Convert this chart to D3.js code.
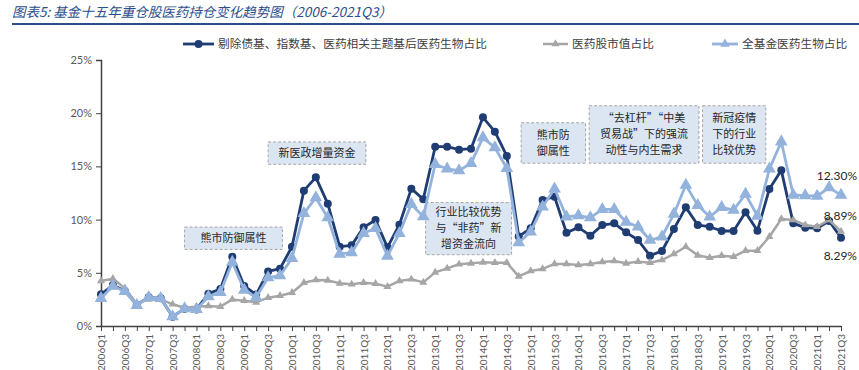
<!DOCTYPE html>
<html><head><meta charset="utf-8">
<script src="https://cdn.jsdelivr.net/npm/d3@7"></script>
<style>
body{margin:0;background:#fff;}
svg{display:block;}
</style></head>
<body><svg id="c" width="859" height="370"></svg>
<script>
const quarters = ["2006Q1","2006Q2","2006Q3","2006Q4","2007Q1","2007Q2","2007Q3","2007Q4",
"2008Q1","2008Q2","2008Q3","2008Q4","2009Q1","2009Q2","2009Q3","2009Q4",
"2010Q1","2010Q2","2010Q3","2010Q4","2011Q1","2011Q2","2011Q3","2011Q4",
"2012Q1","2012Q2","2012Q3","2012Q4","2013Q1","2013Q2","2013Q3","2013Q4",
"2014Q1","2014Q2","2014Q3","2014Q4","2015Q1","2015Q2","2015Q3","2015Q4",
"2016Q1","2016Q2","2016Q3","2016Q4","2017Q1","2017Q2","2017Q3","2017Q4",
"2018Q1","2018Q2","2018Q3","2018Q4","2019Q1","2019Q2","2019Q3","2019Q4",
"2020Q1","2020Q2","2020Q3","2020Q4","2021Q1","2021Q2","2021Q3"];
const excludedShare = [2.98,3.85,3.3,2.0,2.7,2.6,0.88,1.63,1.56,3.04,3.48,6.5,3.76,2.95,5.13,5.39,
7.45,12.72,13.97,11.5,7.45,7.58,9.27,9.96,7.39,9.52,12.91,11.91,16.85,16.85,16.57,16.67,19.61,18.26,15.98,8.42,
9.18,11.84,12.15,8.77,9.27,8.49,9.49,9.65,8.8,8.08,6.61,7.05,9.12,11.15,9.49,
9.33,8.93,8.93,10.68,8.96,12.88,14.63,9.65,9.24,9.18,9.87,8.29];
const marketShare = [4.23,4.45,3.55,2.1,2.5,2.5,2.04,1.72,1.82,1.88,1.82,2.5,2.38,2.22,2.66,2.85,
3.13,4.07,4.32,4.29,4.01,3.92,4.07,3.98,3.70,4.23,4.39,4.1,5.04,5.42,5.8,5.89,5.98,5.95,5.95,4.67,
5.17,5.36,5.83,5.83,5.73,5.83,6.02,6.11,5.89,6.05,5.95,6.2,6.77,7.45,6.64,
6.42,6.61,6.51,7.08,7.08,8.39,10.06,9.96,9.49,9.33,9.96,8.89];
const allFundShare = [2.6,3.76,3.25,1.95,2.7,2.6,0.88,1.63,1.56,2.76,3.16,6.0,3.38,2.7,4.55,4.73,
6.36,10.59,12.06,10.18,6.77,6.89,8.71,9.18,6.58,8.71,11.44,10.28,15.2,14.76,14.6,15.29,17.7,16.76,14.82,7.83,
8.86,11.21,12.9,10.27,10.37,10.18,10.97,10.97,9.77,9.33,8.08,8.39,10.53,13.25,11.34,
10.27,11.15,10.9,12.4,10.34,14.76,17.32,12.31,12.25,12.22,13.0,12.30];
const yTicks = [0,5,10,15,20,25];
const seriesNames = ["剔除债基、指数基、医药相关主题基后医药生物占比","医药股市值占比","全基金医药生物占比"];
const endLabels = ["8.29%","8.89%","12.30%"];
const notes = [
  {lines:["熊市防御属性"], i0:7.0, i1:15.2, v0:9.3, v1:7.2},
  {lines:["新医政增量资金"], i0:14.0, i1:22.2, v0:17.3, v1:15.2},
  {lines:["行业比较优势","与“非药”新","增资金流向"], i0:27.2, i1:34.4, v0:11.6, v1:6.7},
  {lines:["熊市防","御属性"], i0:35.2, i1:40.6, v0:19.1, v1:15.3},
  {lines:["“去杠杆”“中美","贸易战”下的强流","动性与内生需求"], i0:40.9, i1:50.1, v0:20.7, v1:15.3},
  {lines:["新冠疫情","下的行业","比较优势"], i0:50.4, i1:55.7, v0:20.7, v1:15.3}
];

const svg = d3.select("#c");
const cjk = "'Noto Sans CJK SC', sans-serif";
const latin = "Lato, 'Liberation Sans', sans-serif";

// title
svg.append("text").attr("x",12).attr("y",17)
  .attr("font-family",cjk).attr("font-size",13.5).attr("font-style","italic")
  .attr("fill","#2c4f8c").text("图表5:  基金十五年重仓股医药持仓变化趋势图（2006-2021Q3）");
svg.append("line").attr("x1",12).attr("x2",859).attr("y1",24).attr("y2",24)
  .attr("stroke","#2c4f8c").attr("stroke-width",2);

const x = d3.scalePoint().domain(quarters).range([101,841]);
const y = d3.scaleLinear().domain([0,25]).range([326,60]);

// annotation boxes
notes.forEach(n=>{
  const x0 = x(quarters[0]) + (x(quarters[1])-x(quarters[0]))*n.i0;
  const x1 = x(quarters[0]) + (x(quarters[1])-x(quarters[0]))*n.i1;
  const y0 = y(n.v0), y1 = y(n.v1);
  svg.append("rect").attr("x",x0).attr("y",y0).attr("width",x1-x0).attr("height",y1-y0)
    .attr("fill","#dce6f2").attr("stroke","#a6a6a6").attr("stroke-dasharray","3,2").attr("stroke-width",1);
  const lh = 16;
  const cy = (y0+y1)/2 - (n.lines.length-1)*lh/2;
  n.lines.forEach((l,k)=>{
    svg.append("text").attr("x",(x0+x1)/2).attr("y",cy+k*lh).attr("dy","0.35em")
      .attr("text-anchor","middle").attr("font-family",cjk).attr("font-size",11)
      .attr("fill","#262626").text(l);
  });
});

// axes
const yAxis = svg.append("g").attr("transform","translate(101,0)")
  .call(d3.axisLeft(y).tickValues(yTicks).tickFormat(d=>d+"%").tickSize(5).tickPadding(4));
yAxis.select(".domain").attr("stroke","#404040").attr("stroke-width",1.5);
yAxis.selectAll(".tick line").attr("stroke","#404040");
yAxis.selectAll("text").attr("font-family",latin).attr("font-size",11).attr("fill","#595959");

const xAxis = svg.append("g").attr("transform","translate(0,326)")
  .call(d3.axisBottom(x).tickSize(5).tickSizeOuter(0).tickFormat((d,i)=> i%2===0 ? d : ""));
xAxis.select(".domain").attr("stroke","#404040").attr("stroke-width",1.5);
xAxis.selectAll(".tick line").attr("stroke","#404040");
xAxis.selectAll("text").attr("font-family",latin).attr("font-size",10).attr("fill","#595959")
  .attr("transform","rotate(-90)").attr("text-anchor","end").attr("x",-8).attr("y",0).attr("dy","0.35em");

const line = d3.line().x((d,i)=>x(quarters[i])).y(d=>y(d));
const tri = d3.symbol().type(d3.symbolTriangle);

// dark series
svg.append("path").datum(excludedShare).attr("d",line).attr("fill","none")
  .attr("stroke","#1f3d73").attr("stroke-width",2.8).attr("stroke-linejoin","round");
svg.selectAll(".dk").data(excludedShare).join("circle")
  .attr("cx",(d,i)=>x(quarters[i])).attr("cy",d=>y(d)).attr("r",4).attr("fill","#1f3d73");

// gray series
svg.append("path").datum(marketShare).attr("d",line).attr("fill","none")
  .attr("stroke","#a6a6a6").attr("stroke-width",2.5).attr("stroke-linejoin","round");
svg.selectAll(".gy").data(marketShare).join("path")
  .attr("d",tri.size(28)()).attr("fill","#a6a6a6")
  .attr("transform",(d,i)=>`translate(${x(quarters[i])},${y(d)})`);

// light series
svg.append("path").datum(allFundShare).attr("d",line).attr("fill","none")
  .attr("stroke","#93b3dc").attr("stroke-width",2.8).attr("stroke-linejoin","round");
svg.selectAll(".lt").data(allFundShare).join("path")
  .attr("d",tri.size(70)()).attr("fill","#93b3dc")
  .attr("transform",(d,i)=>`translate(${x(quarters[i])},${y(d)})`);

// end labels
[[excludedShare,0,18],[marketShare,1,-16],[allFundShare,2,-19]].forEach(([s,k,dy])=>{
  svg.append("text").attr("x",857).attr("y",y(s[s.length-1])+dy).attr("dy","0.35em")
    .attr("text-anchor","end").attr("font-family",latin).attr("font-size",12)
    .attr("fill","#262626").text(endLabels[k]);
});

// legend
const lg = svg.append("g").attr("font-family",cjk).attr("font-size",11.7).attr("fill","#404040");
const ly = 44;
lg.append("line").attr("x1",183).attr("x2",214).attr("y1",ly).attr("y2",ly).attr("stroke","#1f3d73").attr("stroke-width",2.8);
lg.append("circle").attr("cx",198.5).attr("cy",ly).attr("r",4).attr("fill","#1f3d73");
lg.append("text").attr("x",218).attr("y",ly).attr("dy","0.35em").text(seriesNames[0]);
lg.append("line").attr("x1",543).attr("x2",568).attr("y1",ly).attr("y2",ly).attr("stroke","#a6a6a6").attr("stroke-width",2.5);
lg.append("path").attr("d",tri.size(28)()).attr("fill","#a6a6a6").attr("transform",`translate(555.5,${ly})`);
lg.append("text").attr("x",572).attr("y",ly).attr("dy","0.35em").text(seriesNames[1]);
lg.append("line").attr("x1",712).attr("x2",738).attr("y1",ly).attr("y2",ly).attr("stroke","#93b3dc").attr("stroke-width",2.8);
lg.append("path").attr("d",tri.size(40)()).attr("fill","#93b3dc").attr("transform",`translate(725,${ly})`);
lg.append("text").attr("x",742).attr("y",ly).attr("dy","0.35em").text(seriesNames[2]);
</script></body></html>
